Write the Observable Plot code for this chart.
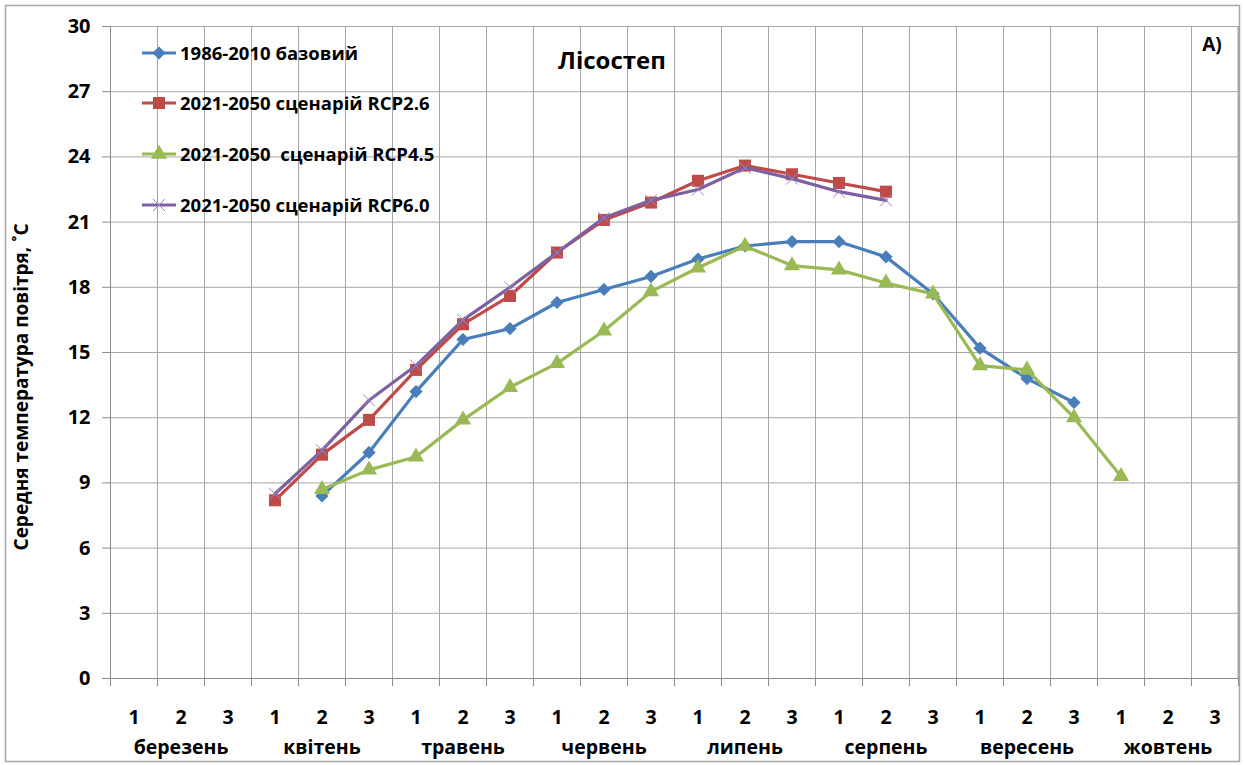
<!DOCTYPE html>
<html><head><meta charset="utf-8">
<script src="https://cdn.jsdelivr.net/npm/d3@7"></script>
<script src="https://cdn.jsdelivr.net/npm/@observablehq/plot@0.6"></script>
<style>
body{margin:0;background:#fff;}
#chart{position:relative;width:1244px;height:765px;}
svg text{font-family:"Open Sans",sans-serif;}
</style></head>
<body><div id="chart"></div>
<script>
const months = ["березень","квітень","травень","червень","липень","серпень","вересень","жовтень"];
const decades = ["1","2","3"];
const seriesNames = ["1986-2010 базовий","2021-2050 сценарій RCP2.6","2021-2050  сценарій RCP4.5","2021-2050 сценарій RCP6.0"];
const baseStart = 4;
const baseVals = [8.4,10.4,13.2,15.6,16.1,17.3,17.9,18.5,19.3,19.9,20.1,20.1,19.4,17.7,15.2,13.8,12.7];
const rcp26Start = 3;
const rcp26Vals = [8.2,10.3,11.9,14.2,16.3,17.6,19.6,21.1,21.9,22.9,23.6,23.2,22.8,22.4];
const rcp45Start = 4;
const rcp45Vals = [8.7,9.6,10.2,11.9,13.4,14.5,16.0,17.8,18.9,19.9,19.0,18.8,18.2,17.7,14.4,14.2,12.0,9.3];
const rcp60Start = 3;
const rcp60Vals = [8.5,10.5,12.8,14.4,16.5,18.0,19.6,21.2,22.0,22.5,23.5,23.0,22.4,22.0];
const yTicks = [0,3,6,9,12,15,18,21,24,27,30];

const colors = ["#4A7EBB","#BE4B48","#98B954","#7D60A0"];
const symbols = ["diamond2","square","triangle","times"];
const radii = [5,6.8,6,5.5];

const cats = months.flatMap(m => decades.map(d => ({m, d})));
const toRows = (start, vals, s) => vals.map((v,i) => ({x: start + i + 0.5, y: v, s}));
const all = [
  toRows(baseStart, baseVals, 0),
  toRows(rcp26Start, rcp26Vals, 1),
  toRows(rcp45Start, rcp45Vals, 2),
  toRows(rcp60Start, rcp60Vals, 3)
];
const bounds = d3.range(0, cats.length + 1);
const catRows = cats.map((c,i) => ({x: i + 0.5, d: c.d}));
const monthRows = months.map((m,i) => ({x: i*3 + 1.5, m}));

const marks = [
  Plot.ruleY(yTicks, {stroke:"#a6a6a6", strokeWidth:1}),
  Plot.ruleX(bounds.slice(1), {stroke:"#a6a6a6", strokeWidth:1}),
  Plot.axisX({ticks: bounds, tickSize: 8, tickFormat: () => "", stroke:"#8c8c8c", label:null}),
  Plot.ruleY([0], {stroke:"#8c8c8c", strokeWidth:1}),
  Plot.ruleX([0], {stroke:"#8c8c8c", strokeWidth:1}),
  Plot.axisY({ticks: yTicks, tickSize: 8, tickPadding: 12, fontSize: 20, fontWeight:"bold", label:null, stroke:"#8c8c8c"}),
  Plot.text(catRows, {x:"x", text:"d", frameAnchor:"bottom", dy: 45, fontSize: 19.5, fontWeight:"bold", fill:"#000"}),
  Plot.text(monthRows, {x:"x", text:"m", frameAnchor:"bottom", dy: 75, fontSize: 19.5, fontWeight:"bold", fill:"#000"})
];
all.forEach((rows, s) => {
  marks.push(Plot.line(rows, {x:"x", y:"y", stroke: colors[s], strokeWidth: 3.2}));
  if (symbols[s] === "times") {
    marks.push(Plot.dot(rows, {x:"x", y:"y", symbol:"times", r: radii[s], stroke:"#9b86c4", strokeWidth:1}));
  } else {
    marks.push(Plot.dot(rows, {x:"x", y:"y", symbol: symbols[s], r: radii[s], fill: colors[s], stroke: colors[s], strokeWidth: symbols[s]==="diamond2"?1.5:0}));
  }
});

const plot = Plot.plot({
  width: 1244, height: 765,
  marginLeft: 110, marginRight: 6, marginTop: 26, marginBottom: 87,
  x: {domain: [0, 24], axis: null},
  y: {domain: [0, 30], axis: null},
  style: {background:"#fff", overflow:"visible"},
  marks
});
document.getElementById("chart").appendChild(plot);

const svg = d3.select(plot);
svg.append("rect").attr("x",5.5).attr("y",5.5).attr("width",1234).attr("height",756)
  .attr("fill","none").attr("stroke","#a6a6a6").attr("stroke-width",1.5);
svg.append("line").attr("x1",1238).attr("x2",1238).attr("y1",26).attr("y2",678).attr("stroke","#a6a6a6");

// y axis title
svg.append("text").attr("transform","translate(28,387) rotate(-90)")
  .attr("text-anchor","middle").attr("font-size",19).attr("font-weight","bold")
  .text("Середня температура повітря, ˚С");
// chart title
svg.append("text").attr("x",612).attr("y",69).attr("text-anchor","middle")
  .attr("font-size",24).attr("font-weight","bold").text("Лісостеп");
svg.append("text").attr("x",1212).attr("y",51).attr("text-anchor","middle")
  .attr("font-size",19).attr("font-weight","bold").text("A)");

// legend
const legY = [53, 103, 154, 205];
seriesNames.forEach((name, s) => {
  const g = svg.append("g").attr("transform", `translate(0,${legY[s]})`);
  g.append("line").attr("x1",142).attr("x2",176).attr("y1",0).attr("y2",0)
    .attr("stroke", colors[s]).attr("stroke-width",3);
  const sym = {diamond2: d3.symbolDiamond2, square: d3.symbolSquare, triangle: d3.symbolTriangle, times: d3.symbolTimes}[symbols[s]];
  const p = g.append("path").attr("transform","translate(159,0)")
    .attr("d", d3.symbol(sym, Math.PI * radii[s] * radii[s])());
  if (symbols[s] === "times") p.attr("fill","none").attr("stroke","#9b86c4").attr("stroke-width",1);
  else p.attr("fill", colors[s]).attr("stroke", colors[s]).attr("stroke-width", symbols[s]==="diamond2"?1.5:0);
  g.append("text").attr("x",180).attr("y",7).attr("text-anchor","start").attr("font-size",18.5).attr("font-weight","bold")
    .style("white-space","pre").text(name);
});
</script></body></html>
